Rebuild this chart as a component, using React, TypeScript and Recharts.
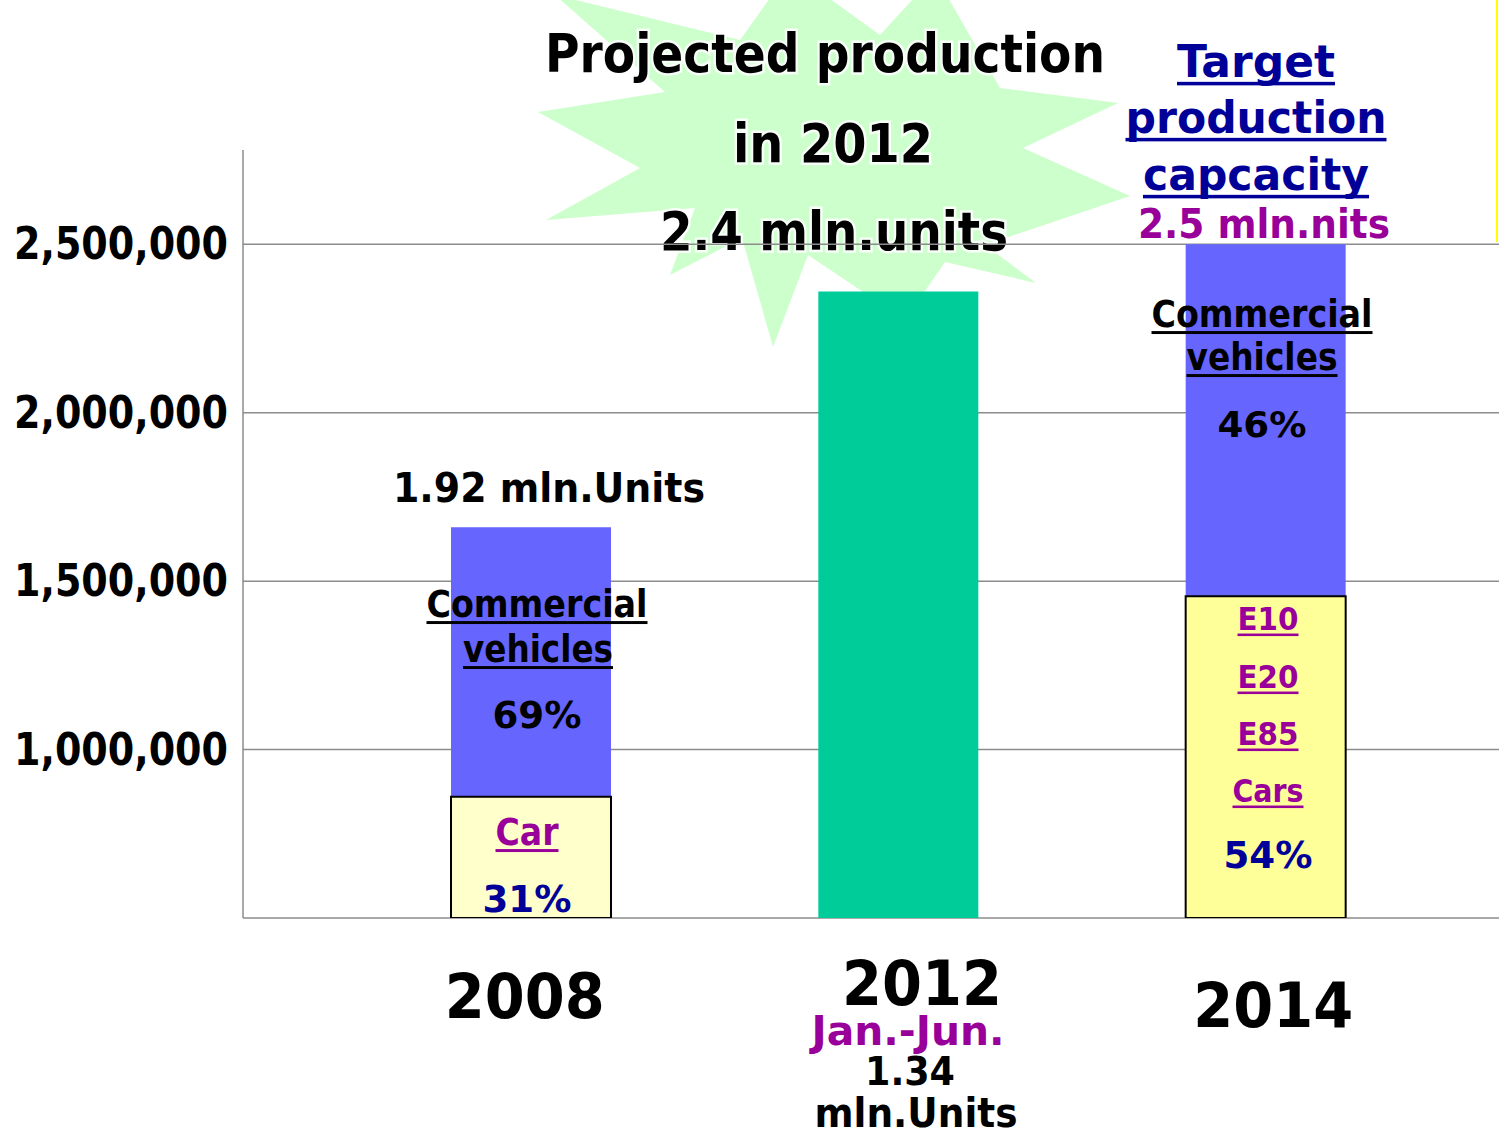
import React from 'react';
import { BarChart, Bar, Cell, XAxis, YAxis, CartesianGrid } from 'recharts';

// values (units)
const years = ['2008', '2012', '2014'];
const commercialTop = [1660000, null, 2500000]; // top of the blue block (cars + commercial)
const carUnits = [860000, null, 1455000];
const projectedUnits = [null, 2360000, null];
const yTicks = [500000, 1000000, 1500000, 2000000, 2500000];
const carFills = ['#FFFFCC', '#FFFFCC', '#FFFF99'];

const rows = years.map((year, i) => ({
  year,
  total: commercialTop[i],
  car: carUnits[i],
  projected: projectedUnits[i],
}));

const FONT = '"DejaVu Sans", Verdana, sans-serif';
const FONT_C = '"DejaVu Sans Condensed", "DejaVu Sans", sans-serif';
const BLUE_TXT = '#000099';
const PURPLE = '#990099';

type TxtProps = {
  x: number;
  y: number;
  w: number;
  size: number;
  color?: string;
  underline?: boolean;
  family?: string;
  halo?: boolean;
  children: string;
};

const Txt = ({ x, y, w, size, color = '#000', underline, family = FONT, halo, children }: TxtProps) => (
  <g>
    <text
      x={x}
      y={y}
      textAnchor="middle"
      fontFamily={family}
      fontWeight="bold"
      fontSize={size}
      fill={color}
      textLength={w}
      lengthAdjust="spacingAndGlyphs"
      stroke={halo ? '#ffffff' : undefined}
      strokeWidth={halo ? 5 : undefined}
      strokeOpacity={halo ? 0.85 : undefined}
      paintOrder="stroke"
    >
      {children}
    </text>
    {underline && (
      <rect x={x - w / 2} y={y + size * 0.11} width={w} height={Math.max(2, size * 0.08)} fill={color} />
    )}
  </g>
);

const starPoints = [
  [555, -5], [665, 92], [538, 112], [640, 168], [546, 220], [695, 208], [670, 275],
  [742, 238], [773, 347], [808, 255], [905, 320], [945, 262], [1036, 283], [985, 245],
  [1130, 196], [1023, 148], [1118, 103], [1000, 88], [935, -25], [880, 35], [790, -30],
  [740, 40],
]
  .map((p) => p.join(','))
  .join(' ');

const YTick = (props: any) => {
  const { x, y, payload } = props;
  if (payload.value === 500000) return null;
  return (
    <text
      x={x - 7}
      y={y + 15}
      textAnchor="end"
      fontFamily={FONT}
      fontWeight="bold"
      fontSize={44}
      fill="#000"
      textLength={214}
      lengthAdjust="spacingAndGlyphs"
    >
      {payload.value.toLocaleString('en-US')}
    </text>
  );
};

const xTickShift = [
  [-6, 92],
  [24, 79],
  [8, 101],
];

const XTick = (props: any) => {
  const { x, y, payload, index } = props;
  const [dx, dy] = xTickShift[index] || [0, 90];
  return (
    <text
      x={x + dx}
      y={y + dy}
      textAnchor="middle"
      fontFamily={FONT}
      fontWeight="bold"
      fontSize={62}
      fill="#000"
      textLength={160}
      lengthAdjust="spacingAndGlyphs"
    >
      {payload.value}
    </text>
  );
};

export default function App() {
  return (
    <div style={{ position: 'absolute', left: 0, top: 0, width: 1499, height: 1131, background: '#fff', overflow: 'hidden' }}>
      {/* starburst + headline behind the chart */}
      <svg width={1499} height={1131} style={{ position: 'absolute', left: 0, top: 0 }}>
        <polygon points={starPoints} fill="#CCFFCC" />
        <Txt x={825} y={72} w={560} size={54} family={FONT_C} halo>Projected production</Txt>
        <Txt x={833} y={162} w={200} size={54} family={FONT_C} halo>in 2012</Txt>
        <Txt x={834} y={250} w={348} size={54} family={FONT_C} halo>2.4 mln.units</Txt>
      </svg>

      <div style={{ position: 'absolute', left: 0, top: 0 }}>
        <BarChart
          width={1499}
          height={1131}
          data={rows}
          margin={{ top: 150, right: 0, left: 0, bottom: 0 }}
          barSize={160}
          barGap={-160}
        >
          <CartesianGrid vertical={false} horizontalValues={yTicks} stroke="#8c8c8c" strokeWidth={1.5} />
          <XAxis
            dataKey="year"
            height={213}
            axisLine={false}
            tickLine={false}
            padding={{ left: 104, right: 50 }}
            tick={<XTick />}
            interval={0}
          />
          <YAxis
            width={243}
            type="number"
            domain={[500000, 2780000]}
            ticks={yTicks}
            allowDataOverflow
            axisLine={{ stroke: '#8c8c8c', strokeWidth: 1.5 }}
            tickLine={false}
            tick={<YTick />}
          />
          <Bar dataKey="total" fill="#6666FF" isAnimationActive={false} />
          <Bar dataKey="car" stroke="#000" strokeWidth={2} isAnimationActive={false}>
            {rows.map((r, i) => (
              <Cell key={r.year} fill={carFills[i]} />
            ))}
          </Bar>
          <Bar dataKey="projected" fill="#00CC99" isAnimationActive={false} />
        </BarChart>
      </div>

      {/* notes over the bars */}
      <svg width={1499} height={1131} style={{ position: 'absolute', left: 0, top: 0, pointerEvents: 'none' }}>
        <line x1={1497} y1={0} x2={1497} y2={242} stroke="#FFFF00" strokeWidth={2} />

        <Txt x={1256} y={77} w={158} size={44} color={BLUE_TXT} underline>Target</Txt>
        <Txt x={1256} y={133} w={261} size={44} color={BLUE_TXT} underline>production</Txt>
        <Txt x={1256} y={190} w={226} size={44} color={BLUE_TXT} underline>capcacity</Txt>
        <Txt x={1264} y={238} w={252} size={41} color={PURPLE}>2.5 mln.nits</Txt>

        <Txt x={1262} y={327} w={221} size={37} underline>Commercial</Txt>
        <Txt x={1262} y={370} w={151} size={37} underline>vehicles</Txt>
        <Txt x={1262} y={437} w={89} size={36}>46%</Txt>

        <Txt x={1268} y={630} w={61} size={32} color={PURPLE} underline>E10</Txt>
        <Txt x={1268} y={688} w={61} size={32} color={PURPLE} underline>E20</Txt>
        <Txt x={1268} y={745} w={61} size={32} color={PURPLE} underline>E85</Txt>
        <Txt x={1268} y={802} w={71} size={32} color={PURPLE} underline>Cars</Txt>
        <Txt x={1268} y={868} w={89} size={37} color={BLUE_TXT}>54%</Txt>

        <Txt x={549} y={502} w={312} size={41}>1.92 mln.Units</Txt>
        <Txt x={537} y={617} w={221} size={37} underline>Commercial</Txt>
        <Txt x={538} y={662} w={150} size={37} underline>vehicles</Txt>
        <Txt x={537} y={728} w={89} size={37}>69%</Txt>
        <Txt x={527} y={845} w={63} size={37} color={PURPLE} underline>Car</Txt>
        <Txt x={527} y={912} w={89} size={37} color={BLUE_TXT}>31%</Txt>

        <Txt x={908} y={1045} w={193} size={41} color={PURPLE}>Jan.-Jun.</Txt>
        <Txt x={910} y={1085} w={90} size={39}>1.34</Txt>
        <Txt x={916} y={1127} w={203} size={41}>mln.Units</Txt>
      </svg>
    </div>
  );
}
